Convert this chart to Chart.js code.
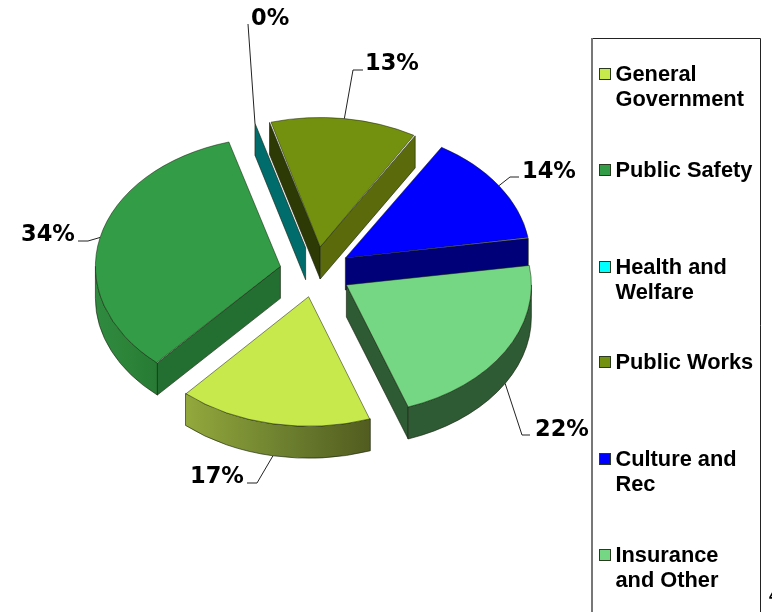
<!DOCTYPE html>
<html>
<head>
<meta charset="utf-8">
<title>Expenditures by function</title>
<style>
  html, body { margin: 0; padding: 0; background: #fff; overflow: hidden; }
  canvas { display: block; }
</style>
<script src="https://cdn.jsdelivr.net/npm/chart.js@4/dist/chart.umd.min.js"></script>
</head>
<body>
<canvas id="pie" width="772" height="612"></canvas>
<script>
const categories = [
  ['General', 'Government'],
  ['Public Safety'],
  ['Health and', 'Welfare'],
  ['Public Works'],
  ['Culture and', 'Rec'],
  ['Insurance', 'and Other'],
];
const shares = [17, 34, 0, 13, 14, 22];

const TOPS = ['#c8e94c', '#339c46', '#00ffff', '#74900f', '#0000ff', '#75d684'];
// side wall colours: start cut, end cut, outer rim stops (left to right)
const WALLS = [
  { start: '#5f6d24', end: '#5f6d24', rim: ['#93a83c', '#6f8230', '#515c1f'] },
  { start: '#226f31', end: '#226f31', rim: ['#2f8a3f', '#2c8439', '#277a34'] },
  { start: '#006c6c', end: '#006c6c', rim: ['#006c6c', '#006c6c'] },
  { start: '#2e3a06', end: '#5b6b0b', rim: ['#5b6b0b', '#5b6b0b'] },
  { start: '#000078', end: '#000078', rim: ['#000078', '#000078'] },
  { start: '#2e5a34', end: '#2e5a34', rim: ['#2e5a34', '#2e5a34'] },
];

const SQUASH = 0.7;
const DEPTH = 32;
const EDGE = 'rgba(20, 30, 10, 0.6)';
const TAU = Math.PI * 2;
const PIE_RADIUS = 185;

// text anchor and leader elbow for each slice
const PCT_LABELS = [
  { x: 190, y: 483, drop: true, elbow: [[257, 483], [247, 483]] },
  { x: 21, y: 241, drop: false, elbow: [[88, 241], [78, 241]] },
  { x: 251, y: 25, drop: false, elbow: [[248, 24]] },
  { x: 365, y: 70, drop: false, elbow: [[353, 70], [363, 70]] },
  { x: 522, y: 178, drop: false, elbow: [[510, 177], [519, 177]] },
  { x: 535, y: 436, drop: true, elbow: [[522, 435], [530, 435]] },
];

const LEGEND_ROWS = [74, 170, 267, 362, 459, 555];
const LEGEND_BOX = { left: 592, right: 760, top: 38 };

// ArcElement grows an offset slice by offset * (1 - sin(circumference))
function radiusGrowth(arc) {
  const shift = (arc.options.offset || 0) / 4;
  return shift * (1 - Math.sin(Math.min(Math.PI, arc.circumference || 0)));
}

// where an exploded slice's rim sits on screen
function sliceGeom(arc) {
  const { x, y, startAngle, endAngle, options } = arc;
  const shift = (options.offset || 0) / 4;
  const mid = (startAngle + endAngle) / 2;
  const r = PIE_RADIUS;
  const ox = x + Math.cos(mid) * shift;
  const oy = y + Math.sin(mid) * shift * SQUASH;
  return {
    ox, oy, r, mid, startAngle, endAngle,
    at: (a) => [ox + Math.cos(a) * r, oy + Math.sin(a) * r * SQUASH],
  };
}

function cutWall(ctx, g, angle, color) {
  const [px, py] = g.at(angle);
  ctx.beginPath();
  ctx.moveTo(g.ox, g.oy);
  ctx.lineTo(px, py);
  ctx.lineTo(px, py + DEPTH);
  ctx.lineTo(g.ox, g.oy + DEPTH);
  ctx.closePath();
  ctx.fillStyle = color;
  ctx.fill();
  ctx.stroke();
}

function rimWall(ctx, g, stops) {
  // only the lower half of the ellipse faces the viewer
  for (const base of [0, TAU]) {
    const a0 = Math.max(g.startAngle, base);
    const a1 = Math.min(g.endAngle, base + Math.PI);
    if (a1 <= a0) continue;
    const xs = [g.at(a0)[0], g.at(a1)[0]];
    const grad = ctx.createLinearGradient(Math.min(...xs), 0, Math.max(...xs), 0);
    stops.forEach((c, i) => grad.addColorStop(i / (stops.length - 1), c));
    ctx.beginPath();
    ctx.ellipse(g.ox, g.oy, g.r, g.r * SQUASH, 0, a0, a1);
    ctx.ellipse(g.ox, g.oy + DEPTH, g.r, g.r * SQUASH, 0, a1, a0, true);
    ctx.closePath();
    ctx.fillStyle = grad;
    ctx.fill();
    ctx.stroke();
  }
}

const tiltedPie = {
  id: 'tiltedPie',
  afterDatasetsUpdate(chart) {
    // keep every slice on the same circle
    for (const arc of chart.getDatasetMeta(0).data) {
      arc.outerRadius = PIE_RADIUS - radiusGrowth(arc);
    }
  },
  beforeDatasetsDraw(chart) {
    const { ctx } = chart;
    const arcs = chart.getDatasetMeta(0).data;
    ctx.save();
    ctx.lineWidth = 1;
    ctx.strokeStyle = EDGE;
    arcs.forEach((arc, i) => {
      const g = sliceGeom(arc);
      // a cut face shows when its outward normal points down the screen
      if (Math.sin(g.startAngle - Math.PI / 2) > 0) cutWall(ctx, g, g.startAngle, WALLS[i].start);
      if (Math.sin(g.endAngle + Math.PI / 2) > 0) cutWall(ctx, g, g.endAngle, WALLS[i].end);
      rimWall(ctx, g, WALLS[i].rim);
    });
    ctx.restore();

    // library draws the top faces inside this flattened space
    const { x, y } = arcs[0];
    ctx.save();
    ctx.translate(x, y);
    ctx.scale(1, SQUASH);
    ctx.translate(-x, -y);
  },
  afterDatasetsDraw(chart) {
    const { ctx } = chart;
    ctx.restore();
    drawPctLabels(chart);
    drawLegend(ctx);
  },
};

function drawPctLabels(chart) {
  const { ctx } = chart;
  const arcs = chart.getDatasetMeta(0).data;
  ctx.save();
  ctx.lineWidth = 1;
  ctx.strokeStyle = '#222';
  ctx.fillStyle = '#000';
  ctx.font = 'bold 22.5px "DejaVu Sans"';
  ctx.textBaseline = 'alphabetic';
  arcs.forEach((arc, i) => {
    const g = sliceGeom(arc);
    const lab = PCT_LABELS[i];
    const [px, py] = g.at(g.mid);
    ctx.beginPath();
    ctx.moveTo(px, py + (lab.drop ? DEPTH : 0));
    lab.elbow.forEach(([ex, ey]) => ctx.lineTo(ex, ey));
    ctx.stroke();
    ctx.fillText(shares[i] + '%', lab.x, lab.y);
  });
  ctx.restore();
}

function drawLegend(ctx) {
  const box = LEGEND_BOX;
  ctx.save();
  ctx.lineWidth = 1;
  ctx.strokeStyle = '#222';
  ctx.beginPath();
  ctx.moveTo(box.left, box.top + 0.5);
  ctx.lineTo(box.right + 0.5, box.top + 0.5);
  ctx.lineTo(box.right + 0.5, 612);
  ctx.stroke();
  ctx.strokeStyle = '#777';
  ctx.lineWidth = 2;
  ctx.beginPath();
  ctx.moveTo(box.left, 612);
  ctx.lineTo(box.left, box.top);
  ctx.stroke();

  ctx.font = 'bold 21.8px "Liberation Sans"';
  ctx.textBaseline = 'alphabetic';
  categories.forEach((lines, i) => {
    const cy = LEGEND_ROWS[i];
    ctx.fillStyle = TOPS[i];
    ctx.strokeStyle = '#2a3a20';
    ctx.lineWidth = 1;
    ctx.fillRect(599.5, cy - 5.5, 11, 11);
    ctx.strokeRect(599.5, cy - 5.5, 11, 11);
    ctx.fillStyle = '#000';
    lines.forEach((line, n) => ctx.fillText(line, 615.5, cy + 7 + n * 25));
  });
  // page number running off the right edge
  ctx.font = 'bold 16px "Liberation Sans"';
  ctx.fillText('4', 769, 601);
  ctx.restore();
}

new Chart(document.getElementById('pie'), {
  type: 'pie',
  data: {
    labels: categories,
    datasets: [{
      data: shares,
      backgroundColor: TOPS,
      borderColor: EDGE,
      borderWidth: 1,
      offset: 144,
      radius: PIE_RADIUS,
      clip: false,
    }],
  },
  options: {
    responsive: false,
    animation: false,
    rotation: 160.5,
    layout: { padding: { left: 0, right: 141, top: 0, bottom: 68 } },
    events: [],
    plugins: { legend: { display: false }, tooltip: { enabled: false } },
  },
  plugins: [tiltedPie],
});
</script>
</body>
</html>
